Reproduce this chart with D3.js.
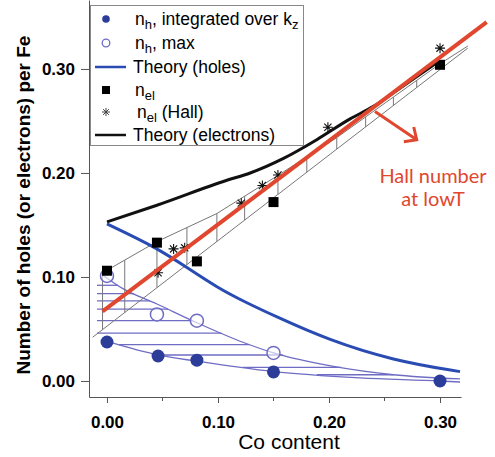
<!DOCTYPE html>
<html>
<head>
<meta charset="utf-8">
<script src="https://cdn.jsdelivr.net/npm/d3@7"></script>
<style>
  html, body { margin: 0; padding: 0; background: #fff; }
  svg { display: block; }
</style>
</head>
<body>
<svg id="chart" width="495" height="457"></svg>
<script>
// Data
const xTicks = [0, 0.1, 0.2, 0.3];
const xMinorTicks = [0.05, 0.15, 0.25];
const yTicks = [0, 0.1, 0.2, 0.3];

// n_h integrated over kz (filled circles)
const nhIntX = [0, 0.046, 0.081, 0.150, 0.300];
const nhIntY = [0.0375, 0.024, 0.020, 0.0087, 0.0];
// n_h max (open circles)
const nhMaxX = [0, 0.045, 0.081, 0.150];
const nhMaxY = [0.101, 0.064, 0.058, 0.027];
// n_el (squares)
const nelX = [0, 0.045, 0.081, 0.150, 0.300];
const nelY = [0.106, 0.133, 0.115, 0.172, 0.304];
// n_el (Hall) (stars)
const hallX = [0.046, 0.060, 0.070, 0.121, 0.140, 0.154, 0.199, 0.300];
const hallY = [0.104, 0.127, 0.128, 0.171, 0.188, 0.198, 0.244, 0.320];

// Theory curves
const holesX = [0, 0.045, 0.072, 0.099, 0.124, 0.153, 0.198, 0.258, 0.318];
const holesY = [0.151, 0.128, 0.109, 0.090, 0.076, 0.0615, 0.040, 0.0195, 0.009];
const elecX = [0, 0.045, 0.108, 0.129, 0.159, 0.189, 0.219, 0.240, 0.270, 0.300];
const elecY = [0.153, 0.169, 0.193, 0.200, 0.214, 0.232, 0.252, 0.264, 0.286, 0.308];

// thin blue envelope curves of the hole shading
const upperHoleX = [-0.004, 0.014, 0.045, 0.081, 0.123, 0.150, 0.204, 0.258, 0.318];
const upperHoleY = [0.102, 0.089, 0.074, 0.056, 0.037, 0.027, 0.014, 0.006, 0.002];
const lowerHoleX = [0, 0.046, 0.081, 0.150, 0.228, 0.300, 0.318];
const lowerHoleY = [0.038, 0.025, 0.019, 0.009, 0.003, 0.0, -0.001];
const holeHatchY = [0.092, 0.084, 0.077, 0.069, 0.058, 0.046, 0.035, 0.025, 0.013, 0.006];

// grey band around the electron counts
const bandTopX = [-0.004, 0.045, 0.099, 0.153, 0.207, 0.258, 0.300, 0.325];
const bandTopY = [0.104, 0.134, 0.161, 0.197, 0.234, 0.273, 0.305, 0.322];
const bandBotX = [-0.013, 0.325];
const bandBotY = [0.042, 0.320];
const bandHatchX = [-0.004, 0.016, 0.045, 0.072, 0.099, 0.124, 0.154, 0.180, 0.207, 0.233, 0.258, 0.279];

// Hall number fit (red) and its annotation
const fitX = [-0.004, 0.342];
const fitY = [0.067, 0.345];
const arrowX = [0.2414, 0.279];
const arrowY = [0.259, 0.232];

// Scales
const x = d3.scaleLinear().domain([-0.0162, 0.3189]).range([89, 461]);
const y = d3.scaleLinear().domain([-0.0154, 0.3663]).range([397, 0]);

const svg = d3.select("#chart");
const font = "'Liberation Sans', Arial, sans-serif";

const zip = (xs, ys) => xs.map((v, i) => [v, ys[i]]);
const line = d3.line().x(d => x(d[0])).y(d => y(d[1]));
const smooth = d3.line().x(d => x(d[0])).y(d => y(d[1])).curve(d3.curveMonotoneX);

// piecewise linear helpers
const valueAt = (pts, v) => {
    for (let i = 0; i < pts.length - 1; i++) {
        const [x0, y0] = pts[i], [x1, y1] = pts[i + 1];
        if (v >= x0 && v <= x1) return y0 + (y1 - y0) * (v - x0) / (x1 - x0);
    }
    return v < pts[0][0] ? pts[0][1] : pts[pts.length - 1][1];
};
const crossAt = (pts, level) => {
    for (let i = 0; i < pts.length - 1; i++) {
        const [x0, y0] = pts[i], [x1, y1] = pts[i + 1];
        if ((level <= y0 && level >= y1) || (level >= y0 && level <= y1)) {
            return x0 + (x1 - x0) * (level - y0) / (y1 - y0);
        }
    }
    return null;
};

// Hole shading (horizontal blue lines)
const upperHole = zip(upperHoleX, upperHoleY);
const lowerHole = zip(lowerHoleX, lowerHoleY);
const hatchLeft = -0.009;
svg.append("g")
    .attr("stroke", "#6f6cc4")
    .attr("stroke-width", 1.3)
    .selectAll("line")
    .data(holeHatchY)
    .join("line")
    .attr("x1", v => {
        const c = crossAt(lowerHole, v);
        return x(c === null ? hatchLeft : Math.max(hatchLeft, c));
    })
    .attr("x2", v => x(crossAt(upperHole, v)))
    .attr("y1", v => y(v))
    .attr("y2", v => y(v));

svg.append("g")
    .attr("fill", "none")
    .attr("stroke", "#6f6cc4")
    .attr("stroke-width", 1.3)
    .selectAll("path")
    .data([upperHole, lowerHole])
    .join("path")
    .attr("d", smooth);

// Grey band with vertical hatching
const bandTop = zip(bandTopX, bandTopY);
const bandBot = zip(bandBotX, bandBotY);
const band = svg.append("g")
    .attr("fill", "none")
    .attr("stroke", "#777")
    .attr("stroke-width", 1);
band.selectAll("path")
    .data([bandTop, bandBot])
    .join("path")
    .attr("d", line);
band.selectAll("line")
    .data(bandHatchX)
    .join("line")
    .attr("x1", v => x(v))
    .attr("x2", v => x(v))
    .attr("y1", v => y(valueAt(bandBot, v)))
    .attr("y2", v => y(valueAt(bandTop, v)));

// Theory curves
svg.append("path")
    .attr("fill", "none")
    .attr("stroke", "#2a4cb2")
    .attr("stroke-width", 3)
    .attr("d", d3.line().x(d => x(d[0])).y(d => y(d[1])).curve(d3.curveBasis)(zip(holesX, holesY)));

svg.append("path")
    .attr("fill", "none")
    .attr("stroke", "#111")
    .attr("stroke-width", 3)
    .attr("d", smooth(zip(elecX, elecY)));

// Markers
const starType = {
    draw(ctx, size) {
        const r = Math.sqrt(size) / 2;
        const d = r * 0.72;
        ctx.moveTo(-r, 0); ctx.lineTo(r, 0);
        ctx.moveTo(0, -r); ctx.lineTo(0, r);
        ctx.moveTo(-d, -d); ctx.lineTo(d, d);
        ctx.moveTo(-d, d); ctx.lineTo(d, -d);
    }
};

svg.append("g")
    .attr("fill", "#fff")
    .attr("fill-opacity", 0.6)
    .attr("stroke", "#6f6cc4")
    .attr("stroke-width", 1.5)
    .selectAll("circle")
    .data(zip(nhMaxX, nhMaxY))
    .join("circle")
    .attr("cx", d => x(d[0]))
    .attr("cy", d => y(d[1]))
    .attr("r", 6.5);

svg.append("g")
    .attr("fill", "#2c3c99")
    .selectAll("circle")
    .data(zip(nhIntX, nhIntY))
    .join("circle")
    .attr("cx", d => x(d[0]))
    .attr("cy", d => y(d[1]))
    .attr("r", 6.5);

svg.append("g")
    .attr("fill", "#000")
    .selectAll("path")
    .data(zip(nelX, nelY))
    .join("path")
    .attr("transform", d => `translate(${x(d[0])},${y(d[1])})`)
    .attr("d", d3.symbol(d3.symbolSquare, 100));

svg.append("g")
    .attr("fill", "none")
    .attr("stroke", "#111")
    .attr("stroke-width", 1.1)
    .selectAll("path")
    .data(zip(hallX, hallY))
    .join("path")
    .attr("transform", d => `translate(${x(d[0])},${y(d[1])})`)
    .attr("d", d3.symbol(starType, 100));

// Red Hall-number line and arrow
const red = "#e0472e";
svg.append("path")
    .attr("fill", "none")
    .attr("stroke", red)
    .attr("stroke-width", 4)
    .attr("d", line(zip(fitX, fitY)));

const ax0 = x(arrowX[0]), ay0 = y(arrowY[0]);
const ax1 = x(arrowX[1]), ay1 = y(arrowY[1]);
const ang = Math.atan2(ay1 - ay0, ax1 - ax0);
const head = 13, spread = Math.PI / 4.2;
svg.append("path")
    .attr("fill", "none")
    .attr("stroke", red)
    .attr("stroke-width", 3)
    .attr("d", `M${ax0},${ay0}L${ax1},${ay1}` +
        `M${ax1 - head * Math.cos(ang - spread)},${ay1 - head * Math.sin(ang - spread)}` +
        `L${ax1},${ay1}` +
        `L${ax1 - head * Math.cos(ang + spread)},${ay1 - head * Math.sin(ang + spread)}`);

svg.append("g")
    .attr("fill", red)
    .style("font-family", "Lato, 'Open Sans', sans-serif")
    .style("font-size", "20px")
    .attr("text-anchor", "middle")
    .selectAll("text")
    .data([["Hall number", 0.190], ["at lowT", 0.168]])
    .join("text")
    .attr("x", x(0.2937))
    .attr("y", d => y(d[1]))
    .text(d => d[0]);

// Axes
const xAxis = svg.append("g")
    .attr("transform", `translate(0,${y.range()[0]})`)
    .call(d3.axisBottom(x).tickValues(xTicks).tickFormat(d3.format(".2f"))
        .tickSize(6).tickSizeOuter(0).tickPadding(13));
xAxis.append("g")
    .selectAll("line")
    .data(xMinorTicks)
    .join("line")
    .attr("x1", v => x(v))
    .attr("x2", v => x(v))
    .attr("y2", 4)
    .attr("stroke", "#555");

const yAxis = svg.append("g")
    .attr("transform", `translate(${x.range()[0]},0)`)
    .call(d3.axisLeft(y).tickValues(yTicks).tickFormat(d3.format(".2f"))
        .tickSize(8).tickSizeOuter(0).tickPadding(6));

[xAxis, yAxis].forEach(g => {
    g.select(".domain").attr("stroke", "#555");
    g.selectAll(".tick line").attr("stroke", "#555");
    g.selectAll(".tick text")
        .attr("fill", "#000")
        .style("font-family", font)
        .style("font-size", "17px")
        .style("font-weight", "bold");
});

svg.append("text")
    .attr("x", 289)
    .attr("y", 449)
    .attr("text-anchor", "middle")
    .style("font-family", font)
    .style("font-size", "21px")
    .text("Co content");

svg.append("text")
    .attr("transform", "translate(30,205) rotate(-90)")
    .attr("text-anchor", "middle")
    .style("font-family", font)
    .style("font-size", "19px")
    .style("font-weight", "bold")
    .text("Number of holes (or electrons) per Fe");

// Legend
const legend = svg.append("g");
legend.append("rect")
    .attr("x", 90.5)
    .attr("y", 5.5)
    .attr("width", 213)
    .attr("height", 140)
    .attr("fill", "#fff")
    .attr("stroke", "#888");

const rows = [19, 43, 67, 90, 112, 135];
legend.append("circle").attr("cx", 106).attr("cy", rows[0]).attr("r", 3.8).attr("fill", "#2c3c99");
legend.append("circle").attr("cx", 106).attr("cy", rows[1]).attr("r", 3.8)
    .attr("fill", "none").attr("stroke", "#6f6cc4").attr("stroke-width", 1.3);
legend.append("line").attr("x1", 95).attr("x2", 126).attr("y1", rows[2]).attr("y2", rows[2])
    .attr("stroke", "#2a4cb2").attr("stroke-width", 2.5);
legend.append("path").attr("transform", `translate(106,${rows[3]})`)
    .attr("d", d3.symbol(d3.symbolSquare, 64)).attr("fill", "#000");
legend.append("path").attr("transform", `translate(106,${rows[4]})`)
    .attr("d", d3.symbol(starType, 64)).attr("fill", "none").attr("stroke", "#444").attr("stroke-width", 1);
legend.append("line").attr("x1", 95).attr("x2", 126).attr("y1", rows[5]).attr("y2", rows[5])
    .attr("stroke", "#111").attr("stroke-width", 2.5);

// label parts: [text, isSubscript]
const labels = [
    [["n", 0], ["h", 1], [", integrated over k", 0], ["z", 1]],
    [["n", 0], ["h", 1], [", max", 0]],
    [["Theory (holes)", 0]],
    [["n", 0], ["el", 1]],
    [["n", 0], ["el", 1], [" (Hall)", 0]],
    [["Theory (electrons)", 0]]
];
const labelX = [135, 135, 133, 135, 137, 133];

legend.selectAll("text")
    .data(labels)
    .join("text")
    .attr("x", (d, i) => labelX[i])
    .attr("y", (d, i) => rows[i] + 6)
    .style("font-family", font)
    .style("font-size", "17.5px")
    .selectAll("tspan")
    .data(d => d)
    .join("tspan")
    .attr("dy", (d, i, nodes) => {
        const prev = i > 0 ? nodes[i - 1].__data__[1] : 0;
        return (d[1] - prev) * 4;
    })
    .style("font-size", d => d[1] ? "13px" : null)
    .text(d => d[0]);
</script>
</body>
</html>
